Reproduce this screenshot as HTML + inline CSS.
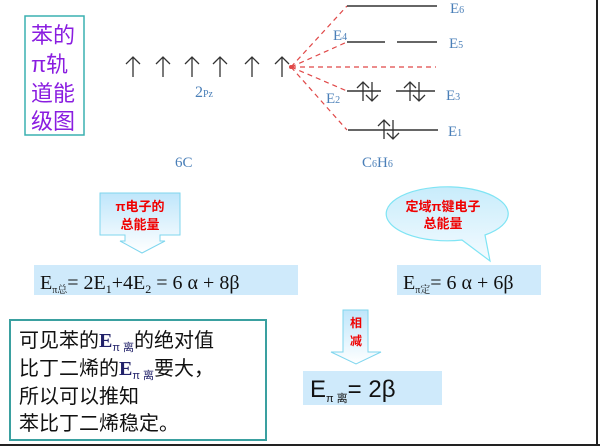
<!DOCTYPE html>
<html><head><meta charset="utf-8"><style>
html,body{margin:0;padding:0;background:#fff;}
svg{display:block;}
.cj{font-family:"Liberation Sans","Noto Sans CJK SC",sans-serif;}
.tm{font-family:"Liberation Serif","Noto Serif CJK SC",serif;}
</style></head><body>
<svg width="600" height="446" viewBox="0 0 600 446" xmlns="http://www.w3.org/2000/svg">
<defs>
<linearGradient id="g1" x1="0" y1="0" x2="0" y2="1"><stop offset="0" stop-color="#bfe6fb"/><stop offset="1" stop-color="#ffffff"/></linearGradient>
<linearGradient id="g2" x1="0" y1="0" x2="0" y2="1"><stop offset="0" stop-color="#c8ecfb"/><stop offset="1" stop-color="#f4fbff"/></linearGradient>
</defs>
<rect x="0" y="0" width="600" height="446" fill="#fff"/>
<line x1="597" y1="0" x2="597" y2="446" stroke="#222" stroke-width="2"/>
<line x1="0" y1="445" x2="600" y2="445" stroke="#222" stroke-width="2"/>

<rect x="25" y="16" width="59" height="119" fill="#fff" stroke="#3ab0b0" stroke-width="1.5"/>
<g class="cj" font-size="22" fill="#8a1de0">
<text x="31" y="43">苯的</text>
<text x="31" y="72">π轨</text>
<text x="31" y="101">道能</text>
<text x="31" y="129">级图</text>
</g>

<g stroke="#333" stroke-width="1.3" fill="none">
<path d="M133 77V57M126 64L133 57L140 64"/>
<path d="M163 77V57M156 64L163 57L170 64"/>
<path d="M192 77V57M185 64L192 57L199 64"/>
<path d="M220 77V57M213 64L220 57L227 64"/>
<path d="M252 77V57M245 64L252 57L259 64"/>
<path d="M282 77V57M275 64L282 57L289 64"/>
</g>
<text x="195" y="97" class="tm" font-size="16" fill="#4a7fb8">2<tspan font-size="10">Pz</tspan></text>
<text x="175" y="167" class="tm" font-size="15" fill="#4a7fb8">6C</text>

<g stroke="#e04848" stroke-width="1.2" stroke-dasharray="5,4" fill="none">
<line x1="291" y1="67" x2="347" y2="6"/>
<line x1="291" y1="67" x2="347" y2="42"/>
<line x1="291" y1="67" x2="436" y2="67"/>
<line x1="291" y1="67" x2="347" y2="91"/>
<line x1="291" y1="67" x2="347" y2="130"/>
</g>
<circle cx="291" cy="67" r="2" fill="#e04848"/>

<g stroke="#333" stroke-width="1.5">
<line x1="347" y1="6" x2="437" y2="6"/>
<line x1="347" y1="42" x2="385" y2="42"/><line x1="397" y1="42" x2="437" y2="42"/>
<line x1="347" y1="91" x2="381" y2="91"/><line x1="396" y1="91" x2="435" y2="91"/>
<line x1="348" y1="130" x2="438" y2="130"/>
</g>
<g stroke="#333" stroke-width="1.3" fill="none">
<path d="M363 101V82M357 88L363 82L369 88"/><path d="M372 82V101M366 95L372 101L378 95"/>
<path d="M410 101V82M404 88L410 82L416 88"/><path d="M419 82V101M413 95L419 101L425 95"/>
<path d="M384 139V120M378 126L384 120L390 126"/><path d="M393 120V139M387 133L393 139L399 133"/>
</g>
<g class="tm" font-size="15" fill="#4a7fb8">
<text x="450" y="13">E<tspan font-size="10">6</tspan></text>
<text x="333" y="40">E<tspan font-size="10">4</tspan></text>
<text x="449" y="48">E<tspan font-size="10">5</tspan></text>
<text x="326" y="103">E<tspan font-size="10">2</tspan></text>
<text x="446" y="100">E<tspan font-size="10">3</tspan></text>
<text x="448" y="136">E<tspan font-size="10">1</tspan></text>
<text x="362" y="167">C<tspan font-size="10">6</tspan>H<tspan font-size="10">6</tspan></text>
</g>

<path d="M100 193H180V235H160V241H165L142 253L120 241H125V235H100Z" fill="url(#g1)" stroke="#7fd6ee" stroke-width="1"/>
<g class="cj" font-size="13" font-weight="bold" fill="#f00000" text-anchor="middle">
<text x="140" y="211">π电子的</text>
<text x="140" y="229">总能量</text>
</g>

<path d="M462 240 A61 27 0 1 1 485 235 L490 261 Z" fill="url(#g2)" stroke="#7fe4f4" stroke-width="1.2"/>
<g class="cj" font-size="13" font-weight="bold" fill="#f00000" text-anchor="middle">
<text x="443" y="211">定域π键电子</text>
<text x="443" y="228">总能量</text>
</g>

<rect x="34" y="265" width="264" height="30" fill="#cfeafb"/>
<text x="40" y="289" class="tm" font-size="20" fill="#111">E<tspan font-size="10" dy="4">π总</tspan><tspan dy="-4">= 2E</tspan><tspan font-size="12" dy="4">1</tspan><tspan dy="-4">+4E</tspan><tspan font-size="12" dy="4">2</tspan><tspan dy="-4"> = 6 α + 8β</tspan></text>
<rect x="397" y="265" width="144" height="30" fill="#cfeafb"/>
<text x="403" y="289" class="tm" font-size="20" fill="#111">E<tspan font-size="10" dy="4">π定</tspan><tspan dy="-4">= 6 α + 6β</tspan></text>

<rect x="10" y="320" width="256" height="120" fill="#fff" stroke="#3aa0a0" stroke-width="2"/>
<g class="cj" font-size="20" fill="#111">
<text x="19" y="347">可见苯的<tspan class="tm" font-weight="bold" fill="#22226a">E</tspan><tspan font-size="11" fill="#22226a" dy="4">π 离</tspan><tspan dy="-4">的绝对值</tspan></text>
<text x="19" y="375">比丁二烯的<tspan class="tm" font-weight="bold" fill="#22226a">E</tspan><tspan font-size="11" fill="#22226a" dy="4">π 离</tspan><tspan dy="-4">要大，</tspan></text>
<text x="19" y="403">所以可以推知</text>
<text x="19" y="430">苯比丁二烯稳定。</text>
</g>

<path d="M343 310H368V352H381L356 364L331 352H343Z" fill="url(#g1)" stroke="#7fd6ee" stroke-width="1"/>
<g class="cj" font-size="12" font-weight="bold" fill="#f00000" text-anchor="middle">
<text x="356" y="327">相</text>
<text x="356" y="345">减</text>
</g>
<rect x="303" y="371" width="139" height="34" fill="#cfeafb"/>
<text x="310" y="397" class="cj" font-size="24" fill="#111">E<tspan font-size="11" dy="5">π 离</tspan><tspan dy="-5">= 2β</tspan></text>
</svg>
</body></html>
